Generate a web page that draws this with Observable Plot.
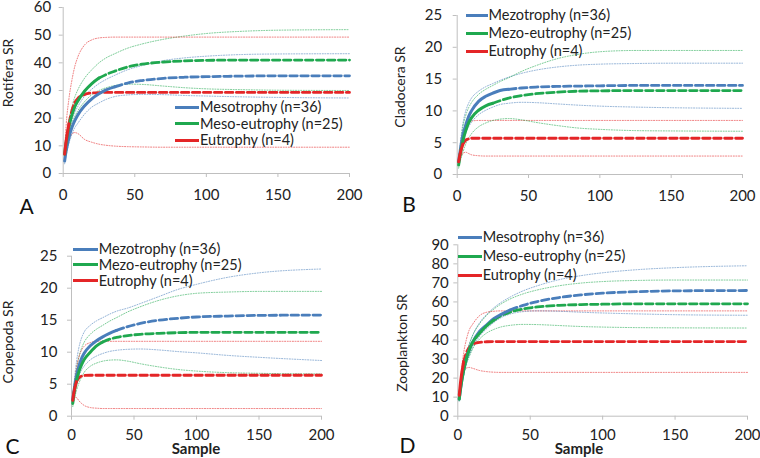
<!DOCTYPE html>
<html><head><meta charset="utf-8">
<script src="https://cdn.jsdelivr.net/npm/d3@7"></script>
<script src="https://cdn.jsdelivr.net/npm/@observablehq/plot@0.6"></script>
<style>
body{margin:0;background:#fff;font-family:Lato,"Noto Sans",sans-serif;}
#wrap{position:relative;width:760px;height:458px;overflow:hidden;background:#fff;}
.panel{position:absolute;width:380px;height:229px;}
.panel svg{overflow:visible;}
.row{position:absolute;display:flex;align-items:center;font-size:14.5px;color:#222;white-space:nowrap;height:14px;line-height:14px;}
.row span.ln{display:inline-block;height:3px;margin-right:1px;}
.ytitle{position:absolute;transform:translate(-50%,-50%) rotate(-90deg);font-size:14px;color:#222;white-space:nowrap;line-height:14px;}
.xtitle{position:absolute;transform:translate(-50%,-50%);font-size:15px;font-weight:bold;color:#222;line-height:15px;}
.letter{position:absolute;transform:translate(-50%,-50%);font-size:21px;color:#111;line-height:21px;}
</style></head><body><div id="wrap"></div>
<script>
// sample sizes (x)
const X = [1,2,4,6,8,10,15,20,25,30,36,45,55,70,85,100,125,150,200];
const nObs = [36,25,4];
const seriesKeys = ["s1","s2","s3"];
const colors = ["#4a7ebb","#1fa84f","#e42527"];
const namesA = ["Mesotrophy (n=36)","Meso-eutrophy (n=25)","Eutrophy (n=4)"];
const namesB = ["Mezotrophy (n=36)","Mezo-eutrophy (n=25)","Eutrophy (n=4)"];

// Panel A – Rotifera
const A_mes_mean = [4.5,8,13,16.5,19,21,24.5,27,28.8,30.2,31.3,32.7,33.6,34.4,34.8,35,35.2,35.3,35.3];
const A_mes_up   = [5,9,15,19,22,24,28,30.5,32.5,34,35.5,37.5,39,40.8,41.8,42.4,43,43.2,43.3];
const A_mes_lo   = [3.5,6.5,11,14,16.5,18,21.5,24,25.5,26.8,27.8,28.4,28.6,28.5,28.2,28,27.7,27.5,27.3];
const A_me_mean  = [7,11,17,21,24,26,29.8,32.5,34.5,35.8,37,38.5,39.5,40.3,40.7,40.9,41,41,41];
const A_me_up    = [8,12.5,19.5,24,27.5,30,34.5,37.5,40,41.8,43.3,45.3,46.8,48.5,49.7,50.6,51.4,51.8,52];
const A_me_lo    = [6,9.5,14.5,18,20.5,22.5,26,28.5,30,31,31.8,32.3,32.2,31.6,31,30.6,30.3,30.1,30];
const A_eu_mean  = [7,11.5,18,22.5,25.5,27,28.6,29.1,29.2,29.3,29.3,29.3,29.3,29.3,29.3,29.3,29.3,29.3,29.3];
const A_eu_up    = [8,17,27,33.5,38.5,41.8,46.5,48.3,49,49.2,49.3,49.3,49.3,49.3,49.3,49.3,49.3,49.3,49.3];
const A_eu_lo    = [7,9.5,12.5,14.2,14.8,14.5,12.3,11.3,10.6,10.2,9.9,9.7,9.6,9.5,9.5,9.5,9.5,9.5,9.5];

// Panel B – Cladocera
const B_mes_mean = [2,3.6,6.2,7.8,9.1,10,11.5,12.3,12.8,13.2,13.4,13.6,13.75,13.85,13.9,13.95,14,14,14];
const B_mes_up   = [2,4.5,8,10,11.2,12,13.1,13.8,14.3,14.8,15.3,15.9,16.4,16.9,17.2,17.35,17.45,17.5,17.5];
const B_mes_lo   = [1.5,3,5,6.5,7.5,8.2,9.4,10.1,10.6,11,11.2,11.35,11.3,11.1,10.9,10.75,10.6,10.5,10.4];
const B_me_mean  = [1.5,3,5.3,6.9,8.1,8.9,10.1,10.8,11.2,11.6,12,12.4,12.7,12.95,13.1,13.15,13.2,13.2,13.2];
const B_me_up    = [2,4,7.5,9.3,10.5,11.3,12.6,13.4,14,14.6,15.2,16.2,17.1,18.2,18.9,19.3,19.5,19.5,19.5];
const B_me_lo    = [1,2,3.5,4.8,5.7,6.4,7.5,8.1,8.5,8.7,8.8,8.6,8.2,7.7,7.3,7.1,6.9,6.85,6.8];
const B_eu_mean  = [2,3.2,4.8,5.4,5.6,5.7,5.7,5.7,5.7,5.7,5.7,5.7,5.7,5.7,5.7,5.7,5.7,5.7,5.7];
const B_eu_up    = [2,3.8,6.2,7.5,8.1,8.4,8.5,8.5,8.5,8.5,8.5,8.5,8.5,8.5,8.5,8.5,8.5,8.5,8.5];
const B_eu_lo    = [2,2.7,3.3,3.5,3.3,3.1,2.95,2.9,2.9,2.9,2.9,2.9,2.9,2.9,2.9,2.9,2.9,2.9,2.9];

// Panel C – Copepoda
const C_mes_mean = [2.5,4,6.3,7.9,9,9.8,11,11.8,12.4,12.9,13.4,14,14.5,15,15.3,15.5,15.65,15.75,15.8];
const C_mes_up   = [2.5,5,8.5,10.8,12.2,13.1,14.2,14.9,15.4,15.9,16.4,16.9,17.6,18.7,19.8,20.6,21.7,22.4,23];
const C_mes_lo   = [2,3,5,6.3,7.2,7.8,8.8,9.4,9.8,10.1,10.3,10.45,10.5,10.35,10.1,9.9,9.5,9.2,8.7];
const C_me_mean  = [2,3.5,5.6,7,8,8.8,10,11,11.6,12,12.3,12.6,12.8,12.95,13.05,13.1,13.1,13.1,13.1];
const C_me_up    = [2,4,7.3,9.3,10.6,11.5,12.8,13.6,14.2,14.8,15.4,16.3,17.1,18.1,18.8,19.2,19.4,19.5,19.5];
const C_me_lo    = [1.5,2.5,4,5.2,6.1,6.8,7.8,8.3,8.6,8.75,8.8,8.6,8.2,7.7,7.3,7.05,6.8,6.7,6.6];
const C_eu_mean  = [2.5,3.8,5.4,6,6.25,6.35,6.4,6.4,6.4,6.4,6.4,6.4,6.4,6.4,6.4,6.4,6.4,6.4,6.4];
const C_eu_up    = [2.5,4.5,7.5,9.3,10.3,10.9,11.5,11.7,11.7,11.7,11.7,11.7,11.7,11.7,11.7,11.7,11.7,11.7,11.7];
const C_eu_lo    = [2.5,3,2.9,2.4,2,1.7,1.35,1.25,1.2,1.2,1.2,1.2,1.2,1.2,1.2,1.2,1.2,1.2,1.2];

// Panel D – Zooplankton
const D_mes_mean = [9,15,24,30.5,35,38.5,44.5,48,51.3,53.5,55.7,58.2,60.2,62.3,63.7,64.6,65.4,65.8,66];
const D_mes_up   = [9,16,26,33,38,42,49,53.5,57,59.8,62.5,65.8,68.5,71.7,73.8,75.3,77,78,79];
const D_mes_lo   = [8,14,22,28,32,35.5,42,46,49.3,51.8,53.6,54.9,55.3,55.1,54.6,54.2,53.7,53.3,53];
const D_me_mean  = [9,15,24,30.5,35,38.5,43.5,47.5,50.5,52.8,54.6,56.3,57.4,58.2,58.6,58.8,59,59,59];
const D_me_up    = [10,16.5,26,33,38,42,48.5,53,56.3,59,61.5,64.2,66.3,68.5,69.9,70.7,71.3,71.5,71.5];
const D_me_lo    = [8,13.5,21.5,27.5,31.5,35,40.5,43.7,45.6,46.9,47.7,48.2,48.1,47.6,47.1,46.8,46.5,46.4,46.3];
const D_eu_mean  = [11,18.5,28.5,33.5,36.2,37.6,38.8,39.1,39.2,39.2,39.2,39.2,39.2,39.2,39.2,39.2,39.2,39.2,39.2];
const D_eu_up    = [11,20,33,40.5,45.5,48,52.8,54.6,55.1,55.3,55.3,55.3,55.3,55.3,55.3,55.3,55.3,55.3,55.3];
const D_eu_lo    = [11,17,23.5,25.3,25.6,25.2,24,23.4,23.1,23,23,23,23,23,23,23,23,23,23];

const xTicks = [0,50,100,150,200];
const yTicksA = [0,10,20,30,40,50,60];
const yTicksB = [0,5,10,15,20,25];
const yTicksC = [0,5,10,15,20,25];
const yTicksD = [0,10,20,30,40,50,60,70,80,90];

const panels = [
  {left:0, top:0, mL:62.7, mR:31, mT:7, mB:56, yMax:60, yTicks:yTicksA, xPad:12, yPad:8,
   mean:[A_mes_mean,A_me_mean,A_eu_mean], up:[A_mes_up,A_me_up,A_eu_up], lo:[A_mes_lo,A_me_lo,A_eu_lo],
   names:namesA, leg:{x:175, w:24, ys:[107.3,123.7,140]}, ytitle:"Rotifera SR", yt:[7.5,73], letter:"A", lt:[26.5,205], xtitle:null},
  {left:380, top:0, mL:76.7, mR:18, mT:15, mB:55, yMax:25, yTicks:yTicksB, xPad:12, yPad:11,
   mean:[B_mes_mean,B_me_mean,B_eu_mean], up:[B_mes_up,B_me_up,B_eu_up], lo:[B_mes_lo,B_me_lo,B_eu_lo],
   names:namesB, leg:{x:466, w:21.5, ys:[15,33.3,51]}, ytitle:"Cladocera SR", yt:[400,87], letter:"B", lt:[409,203], xtitle:null},
  {left:0, top:229, mL:71, mR:59, mT:26.7, mB:42.3, yMax:25, yTicks:yTicksC, xPad:9, yPad:10,
   mean:[C_mes_mean,C_me_mean,C_eu_mean], up:[C_mes_up,C_me_up,C_eu_up], lo:[C_mes_lo,C_me_lo,C_eu_lo],
   names:namesB, leg:{x:73.3, w:24.4, ys:[249,264.5,280.7]}, ytitle:"Copepoda SR", yt:[8.3,341.5], letter:"C", lt:[12.5,445], xtitle:"Sample", xt:[196,448]},
  {left:380, top:229, mL:77.3, mR:13, mT:15.3, mB:42.3, yMax:90, yTicks:yTicksD, xPad:9, yPad:5,
   mean:[D_mes_mean,D_me_mean,D_eu_mean], up:[D_mes_up,D_me_up,D_eu_up], lo:[D_mes_lo,D_me_lo,D_eu_lo],
   names:namesA, leg:{x:458.3, w:23.4, ys:[237.3,256.3,275]}, ytitle:"Zooplankton SR", yt:[401.7,343], letter:"D", lt:[407.5,443.5], xtitle:"Sample", xt:[579,448]}
];

const wrap = document.getElementById("wrap");
function addDiv(cls, text, x, y){
  const d = document.createElement("div"); d.className = cls; d.textContent = text;
  d.style.left = x + "px"; d.style.top = y + "px"; wrap.appendChild(d); return d;
}

for (const p of panels) {
  const rows = [];
  p.mean.forEach((arr, g) => X.forEach((x, i) => rows.push({x, g: seriesKeys[g], n: nObs[g], mean: arr[i], up: p.up[g][i], lo: p.lo[g][i]})));
  const obs = rows.filter(d => d.x <= d.n);
  const ext = rows.filter(d => d.x >= d.n);
  const axisCol = "#bfbfbf";
  const svg = Plot.plot({
    width: 380, height: 229,
    marginLeft: p.mL, marginRight: p.mR, marginTop: p.mT, marginBottom: p.mB,
    style: {fontFamily: "Lato, 'Noto Sans', sans-serif", fontSize: "15px", background: "transparent", overflow: "visible"},
    x: {domain: [0, 200]},
    y: {domain: [0, p.yMax]},
    color: {domain: seriesKeys, range: colors},
    marks: [
      Plot.ruleX([0], {stroke: axisCol}),
      Plot.ruleY([0], {stroke: axisCol}),
      Plot.axisX({ticks: xTicks, tickSize: 4, tickPadding: p.xPad, stroke: axisCol, fill: "#222", label: null, fontSize: 15}),
      Plot.axisY({ticks: p.yTicks, tickSize: 4, tickPadding: p.yPad, stroke: axisCol, fill: "#222", label: null, fontSize: 15}),
      Plot.line(rows, {x: "x", y: "up", z: "g", stroke: "g", strokeWidth: 1, strokeDasharray: "1,1.6", strokeOpacity: 0.6, curve: "monotone-x"}),
      Plot.line(rows, {x: "x", y: "lo", z: "g", stroke: "g", strokeWidth: 1, strokeDasharray: "1,1.6", strokeOpacity: 0.6, curve: "monotone-x"}),
      Plot.line(ext, {x: "x", y: "mean", z: "g", stroke: "g", strokeWidth: 2.8, strokeDasharray: "7.5,3.5", curve: "monotone-x"}),
      Plot.line(obs, {x: "x", y: "mean", z: "g", stroke: "g", strokeWidth: 3, curve: "monotone-x"})
    ]
  });
  const holder = document.createElement("div");
  holder.className = "panel";
  holder.style.left = p.left + "px"; holder.style.top = p.top + "px";
  holder.appendChild(svg);
  wrap.appendChild(holder);

  // legend
  p.names.forEach((nm, i) => {
    const r = document.createElement("div"); r.className = "row";
    r.style.left = p.leg.x + "px"; r.style.top = (p.leg.ys[i] - 7) + "px";
    const ln = document.createElement("span"); ln.className = "ln";
    ln.style.width = p.leg.w + "px"; ln.style.background = colors[i];
    const tx = document.createElement("span"); tx.textContent = nm;
    r.appendChild(ln); r.appendChild(tx); wrap.appendChild(r);
  });
  addDiv("ytitle", p.ytitle, p.yt[0], p.yt[1]);
  addDiv("letter", p.letter, p.lt[0], p.lt[1]);
  if (p.xtitle) addDiv("xtitle", p.xtitle, p.xt[0], p.xt[1]);
}
</script></body></html>
